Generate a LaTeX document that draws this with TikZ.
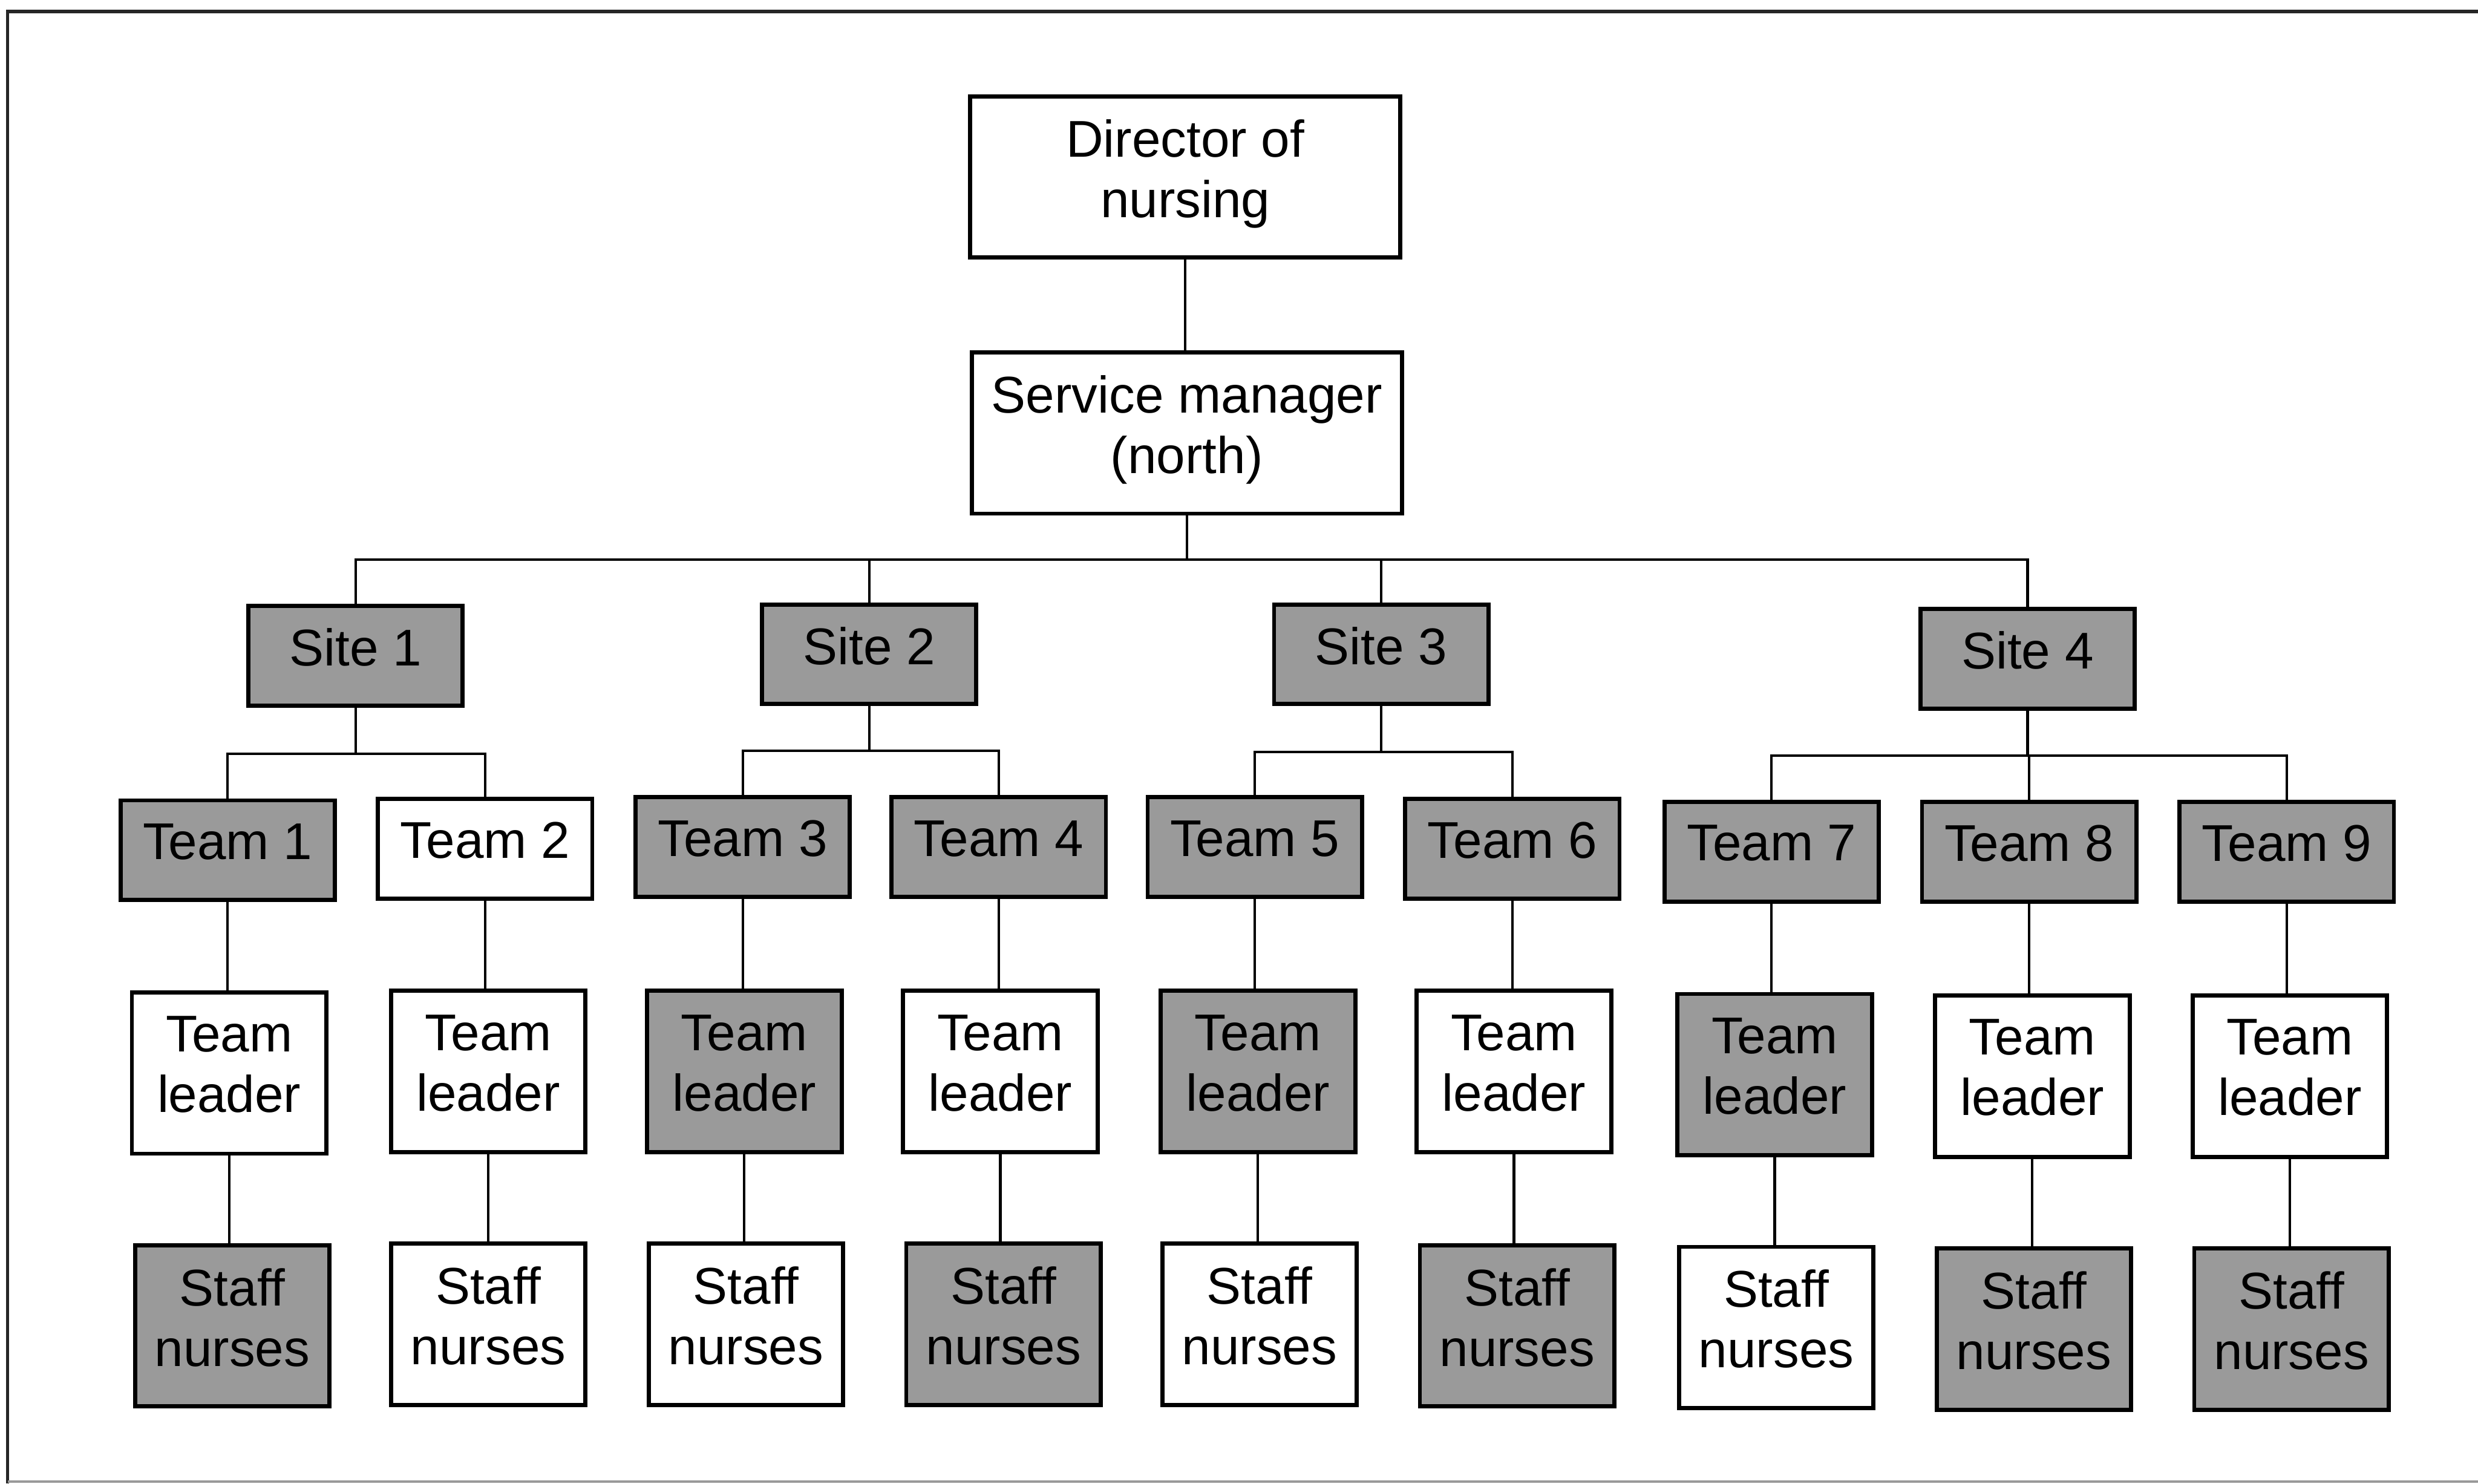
\documentclass[tikz,border=0pt]{standalone}
\usepackage{fontspec}
\setmainfont{Liberation Sans}
\definecolor{boxgray}{RGB}{154,154,154}
\begin{document}
\begin{tikzpicture}[x=0.01cm,y=-0.01cm,
  box/.style={draw, line width=0.75pt, align=center, inner sep=0pt,
              text depth=0.11cm, font=\fontsize{9.3}{10.9}\selectfont},
  wide/.style={box, minimum width=2.72cm, minimum height=1.02cm},
  flat/.style={box, minimum width=1.355cm, minimum height=0.63cm},
  tall/.style={box, minimum width=1.23cm, minimum height=1.02cm},
  dark/.style={fill=boxgray},
  light/.style={fill=white},
  link/.style={line width=0.45pt}]
\useasboundingbox (0,0) rectangle (1568,938.7);

% frame
\draw[line width=0.6pt, black!85] (1568,7.3) -- (4.8,7.3) -- (4.8,938.7);
\draw[line width=0.45pt, black!40] (4.8,937.5) -- (1568,937.5);

% top of the hierarchy
\node[wide, light] (dir) at (750,112) {Director of\\nursing};
\node[wide, light] (sm)  at (751,274) {Service manager\\(north)};

% sites
\node[flat, dark] (s1) at (225,415)  {Site 1};
\node[flat, dark] (s2) at (550,414)  {Site 2};
\node[flat, dark] (s3) at (874,414)  {Site 3};
\node[flat, dark] (s4) at (1283,417) {Site 4};

% teams
\node[flat, dark]  (t1) at (144,538)  {Team 1};
\node[flat, light] (t2) at (307,537)  {Team 2};
\node[flat, dark]  (t3) at (470,536)  {Team 3};
\node[flat, dark]  (t4) at (632,536)  {Team 4};
\node[flat, dark]  (t5) at (794,536)  {Team 5};
\node[flat, dark]  (t6) at (957,537)  {Team 6};
\node[flat, dark]  (t7) at (1121,539) {Team 7};
\node[flat, dark]  (t8) at (1284,539) {Team 8};
\node[flat, dark]  (t9) at (1447,539) {Team 9};

% team leaders
\node[tall, light] (l1) at (145,679)  {Team\\leader};
\node[tall, light] (l2) at (309,678)  {Team\\leader};
\node[tall, dark]  (l3) at (471,678)  {Team\\leader};
\node[tall, light] (l4) at (633,678)  {Team\\leader};
\node[tall, dark]  (l5) at (796,678)  {Team\\leader};
\node[tall, light] (l6) at (958,678)  {Team\\leader};
\node[tall, dark]  (l7) at (1123,680) {Team\\leader};
\node[tall, light] (l8) at (1286,681) {Team\\leader};
\node[tall, light] (l9) at (1449,681) {Team\\leader};

% staff nurses
\node[tall, dark]  (n1) at (147,839)  {Staff\\nurses};
\node[tall, light] (n2) at (309,838)  {Staff\\nurses};
\node[tall, light] (n3) at (472,838)  {Staff\\nurses};
\node[tall, dark]  (n4) at (635,838)  {Staff\\nurses};
\node[tall, light] (n5) at (797,838)  {Staff\\nurses};
\node[tall, dark]  (n6) at (960,839)  {Staff\\nurses};
\node[tall, light] (n7) at (1124,840) {Staff\\nurses};
\node[tall, dark]  (n8) at (1287,841) {Staff\\nurses};
\node[tall, dark]  (n9) at (1450,841) {Staff\\nurses};

% bus junctions
\coordinate (b0) at (751,354);
\coordinate (b1) at (225,477);
\coordinate (b2) at (550,475);
\coordinate (b3) at (874,476);
\coordinate (b4) at (1283,478);

% connectors
\draw[link] (dir.south) -- (dir.south |- sm.north);
\draw[link] (sm.south) -- (b0);
\draw[link] (s1.north) |- (b0) -| (s4.north);
\draw[link] (s2.north) -- (s2.north |- b0);
\draw[link] (s3.north) -- (s3.north |- b0);

\draw[link] (s1.south) -- (b1);
\draw[link] (t1.north) |- (b1) -| (t2.north);
\draw[link] (s2.south) -- (b2);
\draw[link] (t3.north) |- (b2) -| (t4.north);
\draw[link] (s3.south) -- (b3);
\draw[link] (t5.north) |- (b3) -| (t6.north);
\draw[link] (s4.south) -- (b4);
\draw[link] (t7.north) |- (b4) -| (t9.north);
\draw[link] (t8.north) -- (t8.north |- b4);

\foreach \i in {1,...,9}{
  \draw[link] (t\i.south) -- (t\i.south |- l\i.north);
  \draw[link] (l\i.south) -- (l\i.south |- n\i.north);
}
\end{tikzpicture}
\end{document}
